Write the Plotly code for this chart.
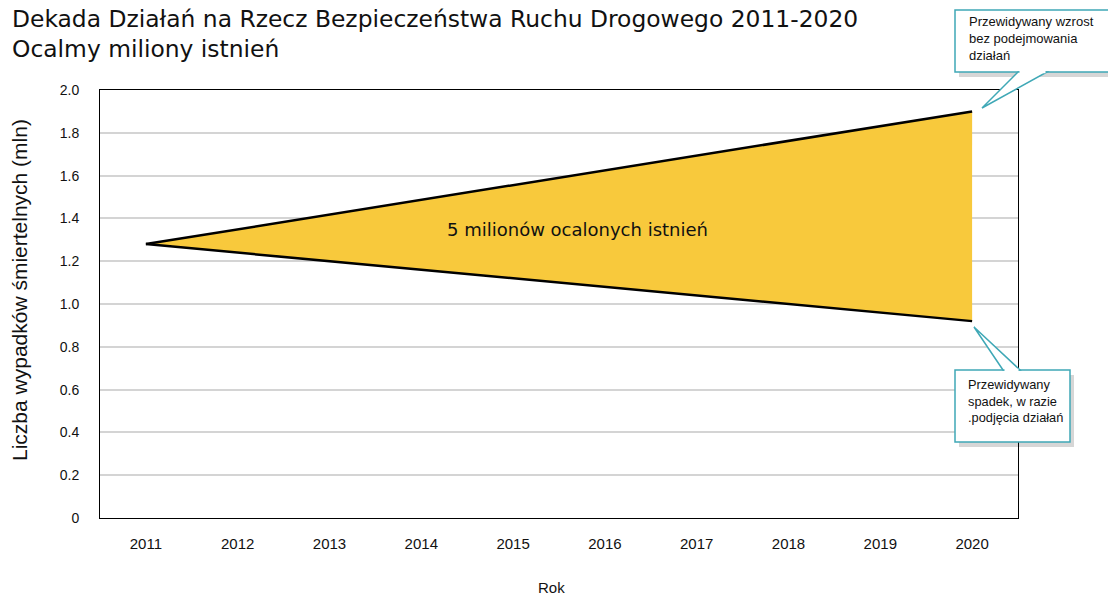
import plotly.graph_objects as go

# ---- data ----
years = [2011, 2020]
no_action = [1.28, 1.90]      # projected increase without action
with_action = [1.28, 0.92]    # projected decrease with action
y_tick_vals = [0, 0.2, 0.4, 0.6, 0.8, 1.0, 1.2, 1.4, 1.6, 1.8, 2.0]
y_tick_text = ["0", "0.2", "0.4", "0.6", "0.8", "1.0", "1.2", "1.4", "1.6", "1.8", "2.0"]
x_tick_vals = list(range(2011, 2021))
x_tick_text = [str(v) for v in x_tick_vals]

W, H = 1108, 598
L, R, T, B = 100, 90, 90, 80
PW, PH = W - L - R, H - T - B


def px(x):
    return (x - L) / PW


def py(y):
    return (H - B - y) / PH


fig = go.Figure()
fig.add_trace(go.Scatter(x=years, y=no_action, mode="lines",
                         line=dict(color="black", width=2.5), showlegend=False,
                         hoverinfo="skip"))
fig.add_trace(go.Scatter(x=years, y=with_action, mode="lines", fill="tonexty",
                         fillcolor="#F8C93C",
                         line=dict(color="black", width=2.5), showlegend=False,
                         hoverinfo="skip"))

teal = "#3FA8B6"
shapes = []


def callout(x0, y0, x1, y1, base_a, base_b, base_y, tip):
    # shadow
    shapes.append(dict(type="rect", xref="paper", yref="paper",
                       x0=px(x0 + 4), x1=px(x1 + 4), y0=py(y1 + 5), y1=py(y0 + 5),
                       fillcolor="rgba(0,0,0,0.16)", line=dict(width=0), layer="above"))
    # box
    shapes.append(dict(type="rect", xref="paper", yref="paper",
                       x0=px(x0), x1=px(x1), y0=py(y1), y1=py(y0),
                       fillcolor="white", line=dict(color=teal, width=1.5), layer="above"))
    # wedge
    path = (f"M {px(base_a)} {py(base_y)} L {px(tip[0])} {py(tip[1])} "
            f"L {px(base_b)} {py(base_y)} Z")
    shapes.append(dict(type="path", xref="paper", yref="paper", path=path,
                       fillcolor="white", line=dict(color=teal, width=1.5), layer="above"))
    # cover the box border under the wedge base
    shapes.append(dict(type="line", xref="paper", yref="paper",
                       x0=px(base_a + 1.5), x1=px(base_b - 1.5), y0=py(base_y), y1=py(base_y),
                       line=dict(color="white", width=2.5), layer="above"))


callout(955, 10, 1116, 72, 1018, 1047, 72, (982, 108))
callout(955, 370, 1070, 442, 1003, 1020, 370, (974, 327))

annotations = [
    dict(text="Dekada Działań na Rzecz Bezpieczeństwa Ruchu Drogowego 2011-2020<br>Ocalmy miliony istnień",
         xref="paper", yref="paper", x=px(10), y=py(3), xanchor="left", yanchor="top",
         align="left", showarrow=False,
         font=dict(family="DejaVu Sans, Verdana", size=23.4, color="#111111")),
    dict(text="5 milionów ocalonych istnień", x=2015.7, y=1.35, xref="x", yref="y",
         showarrow=False, font=dict(family="DejaVu Sans, Verdana", size=18, color="#111111")),
    dict(text="Liczba wypadków śmiertelnych (mln)", xref="paper", yref="paper",
         x=px(19), y=py(290), xanchor="center", yanchor="middle", textangle=-90,
         showarrow=False,
         font=dict(family="Liberation Sans, Arial", size=21, color="#111111")),
    dict(text="Rok", xref="paper", yref="paper", x=px(551), y=py(587),
         xanchor="center", yanchor="middle",
         showarrow=False, font=dict(family="Liberation Sans, Arial", size=15, color="#111111")),
    dict(text="Przewidywany wzrost<br>bez podejmowania<br>działań", xref="paper", yref="paper",
         x=px(967), y=py(12), xanchor="left", yanchor="top", align="left", showarrow=False,
         font=dict(family="Liberation Sans, Arial", size=13, color="#111111")),
    dict(text="Przewidywany<br>spadek, w razie<br>.podjęcia działań", xref="paper", yref="paper",
         x=px(966), y=py(375), xanchor="left", yanchor="top", align="left", showarrow=False,
         font=dict(family="Liberation Sans, Arial", size=12.8, color="#111111")),
]

fig.update_layout(
    width=W, height=H,
    margin=dict(l=L, r=R, t=T, b=B, pad=0),
    paper_bgcolor="white", plot_bgcolor="white",
    shapes=shapes, annotations=annotations, showlegend=False,
    font=dict(family="Liberation Sans, Arial", size=14, color="#111111"),
)
fig.update_xaxes(range=[2010.5, 2020.5], tickvals=x_tick_vals, ticktext=x_tick_text,
                 showgrid=False, zeroline=False, showline=True, mirror=True,
                 linecolor="black", linewidth=1, ticks="outside", ticklen=12,
                 tickcolor="rgba(0,0,0,0)", tickfont=dict(size=15))
fig.update_yaxes(range=[0, 2.0], tickvals=y_tick_vals, ticktext=y_tick_text,
                 showgrid=True, gridcolor="#d4d4d4", gridwidth=1.5, zeroline=False,
                 showline=True, mirror=True, linecolor="black", linewidth=1,
                 ticks="outside", ticklen=17, tickcolor="rgba(0,0,0,0)",
                 tickfont=dict(size=14))

fig.write_html("out.html")
